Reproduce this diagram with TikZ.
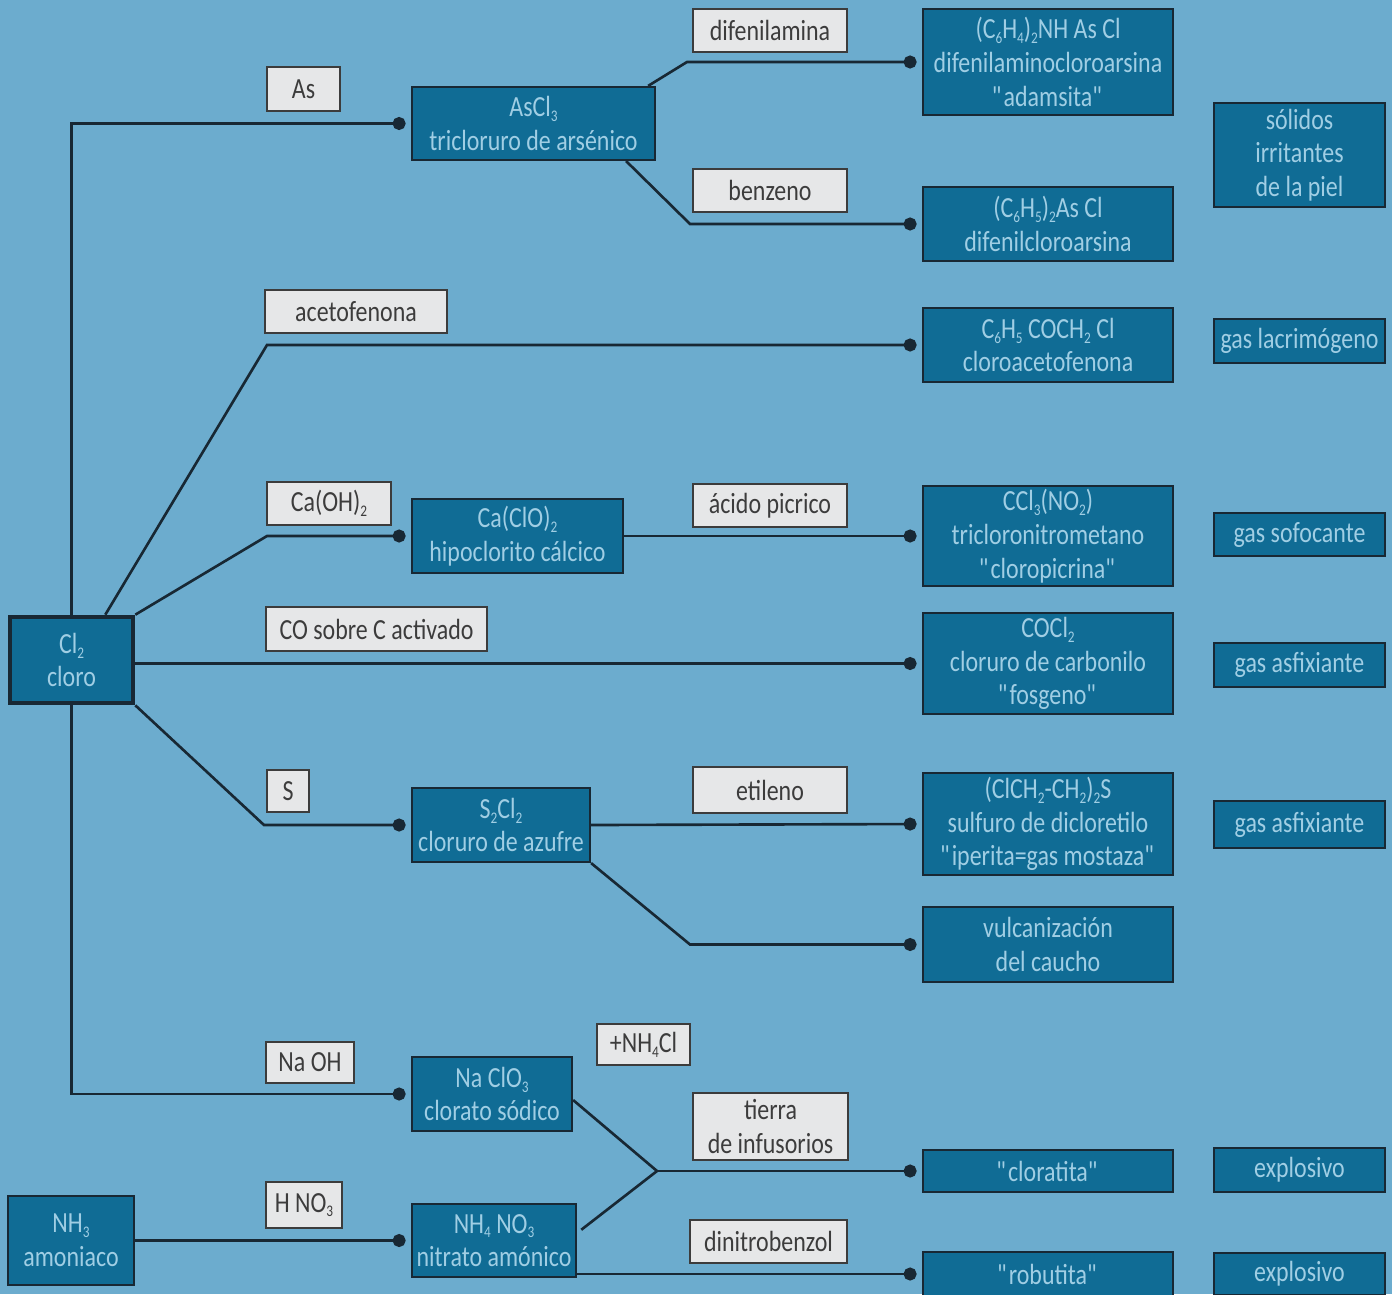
\documentclass[tikz,border=0pt]{standalone}
\usepackage{fontspec}
\setmainfont[FakeStretch=0.82]{Carlito}
\usetikzlibrary{arrows.meta, positioning}

\definecolor{bgblue}{RGB}{108,172,206}
\definecolor{boxblue}{RGB}{16,108,149}
\definecolor{boxtext}{RGB}{160,206,228}
\definecolor{linecol}{RGB}{24,40,52}
\definecolor{tagfill}{RGB}{230,231,232}
\definecolor{tagtext}{RGB}{60,60,60}

\newcommand{\ix}[1]{\raisebox{-0.35ex}{\fontsize{4.6}{5}\selectfont #1}}
\newcommand{\qt}[1]{\textquotedbl#1\textquotedbl}

\begin{document}
\begin{tikzpicture}[
    x = 0.01cm, y = -0.01cm,
    > = {Circle[length=3.7pt]}, % dots at the ends
    shorten > = 1.5pt,
    line width = 0.75pt,
    color = linecol,
    font = \fontsize{8.3}{9.6}\selectfont,
    comp/.style={rectangle, draw=linecol, line width=0.6pt, fill=boxblue, text=boxtext, align=center, inner sep=0pt, minimum width=2.5cm},
    use/.style={comp, minimum width=1.71cm},
    reag/.style={rectangle, draw=tagtext, line width=0.6pt, fill=tagfill, text=tagtext, align=center, inner sep=0pt, minimum width=1.54cm, minimum height=0.43cm}
]

% background
\path[use as bounding box, clip] (0,0) rectangle (1392,1294);
\fill[bgblue] (0,0) rectangle (1392,1294);

% --- STARTING SUBSTANCES ---
\node[comp, line width=1.3pt, minimum width=1.23cm, minimum height=0.86cm] (cl) at (71.5,660) {Cl\ix{2}\\cloro};
\node[comp, minimum width=1.26cm, minimum height=0.89cm] (nh) at (71,1240.5) {NH\ix{3}\\amoniaco};

% --- INTERMEDIATES ---
\node[comp, minimum width=2.43cm, minimum height=0.73cm] (ascl) at (533.5,123.5) {AsCl\ix{3}\\tricloruro de arsénico};
\node[comp, minimum width=2.11cm, minimum height=0.74cm] (caclo) at (517.5,536) {Ca(ClO)\ix{2}\\hipoclorito cálcico};
\node[comp, minimum width=1.78cm, minimum height=0.74cm] (scl) at (501,825) {S\ix{2}Cl\ix{2}\\cloruro de azufre};
\node[comp, minimum width=1.60cm, minimum height=0.74cm] (nacl) at (492,1094) {Na ClO\ix{3}\\clorato sódico};
\node[comp, minimum width=1.64cm, minimum height=0.73cm] (nhno) at (494,1240.5) {NH\ix{4} NO\ix{3}\\nitrato amónico};

% --- PRODUCTS ---
\node[comp, minimum height=1.06cm] (adam) at (1048,62) {(C\ix{6}H\ix{4})\ix{2}NH As Cl\\difenilaminocloroarsina\\\qt{adamsita}};
\node[comp, minimum height=0.74cm] (dfcl) at (1048,224) {(C\ix{6}H\ix{5})\ix{2}As Cl\\difenilcloroarsina};
\node[comp, minimum height=0.74cm] (cafn) at (1048,345) {C\ix{6}H\ix{5} COCH\ix{2} Cl\\cloroacetofenona};
\node[comp, minimum height=1.00cm] (cpic) at (1048,536) {CCl\ix{3}(NO\ix{2})\\tricloronitrometano\\\qt{cloropicrina}};
\node[comp, minimum height=1.01cm] (fosg) at (1048,663.5) {COCl\ix{2}\\cloruro de carbonilo\\\qt{fosgeno}};
\node[comp, minimum height=1.02cm] (iper) at (1048,824) {(ClCH\ix{2}-CH\ix{2})\ix{2}S\\sulfuro de dicloretilo\\\qt{iperita=gas mostaza}};
\node[comp, minimum height=0.75cm] (vulc) at (1048,944.5) {vulcanización\\del caucho};
\node[comp, minimum height=0.42cm] (clor) at (1048,1171) {\qt{cloratita}};
\node[comp, minimum height=0.44cm] (robu) at (1048,1274) {\qt{robutita}};

% --- USES ---
\node[use, minimum height=1.04cm] (u1) at (1299.5,155) {sólidos\\irritantes\\de la piel};
\node[use, minimum height=0.44cm] (u2) at (1299.5,341) {gas lacrimógeno};
\node[use, minimum height=0.43cm] (u3) at (1299.5,534.5) {gas sofocante};
\node[use, minimum height=0.44cm] (u4) at (1299.5,665) {gas asfixiante};
\node[use, minimum height=0.47cm] (u5) at (1299.5,824.5) {gas asfixiante};
\node[use, minimum height=0.44cm] (u6) at (1299.5,1170) {explosivo};
\node[use, minimum height=0.42cm] (u7) at (1299.5,1274) {explosivo};

% --- REAGENTS ---
\node[reag, minimum width=0.73cm, minimum height=0.44cm] (r1) at (303.5,89) {As};
\node[reag] (r2) at (770,30.5) {difenilamina};
\node[reag] (r3) at (770,190.5) {benzeno};
\node[reag, minimum width=1.82cm] (r4) at (356,311.5) {acetofenona};
\node[reag, minimum width=1.24cm] (r5) at (329,503.5) {Ca(OH)\ix{2}};
\node[reag] (r6) at (770,505.5) {ácido picrico};
\node[reag, minimum width=2.21cm, minimum height=0.44cm] (r7) at (376.5,629) {CO sobre C activado};
\node[reag, minimum width=0.42cm, minimum height=0.42cm] (r8) at (288,791) {S};
\node[reag, minimum height=0.46cm] (r9) at (770,790) {etileno};
\node[reag, minimum width=0.93cm, minimum height=0.41cm] (r10) at (643.5,1044.5) {+NH\ix{4}Cl};
\node[reag, minimum width=0.88cm, minimum height=0.41cm] (r11) at (310,1062.5) {Na OH};
\node[reag, minimum width=1.55cm, minimum height=0.67cm] (r12) at (770.5,1126.5) {tierra\\de infusorios};
\node[reag, minimum width=0.76cm, minimum height=0.46cm] (r13) at (304,1205) {H NO\ix{3}};
\node[reag, minimum width=1.57cm] (r14) at (768.5,1241.5) {dinitrobenzol};

% --- CONNECTIONS ---
\draw[->] (cl.north) |- (ascl.west);
\draw[->] ([xshift=-0.08cm]ascl.north east) -- (687,0 |- adam.west) -- (adam.west);
\draw[->] ([xshift=-0.3cm]ascl.south east) -- (690,0 |- dfcl.west) -- (dfcl.west);
\draw[->] ([xshift=-0.3cm]cl.north east) -- (267,0 |- cafn.west) -- (cafn.west);
\draw[->] (cl.north east) -- (267,0 |- caclo.west) -- (caclo.west);
\draw[->] (caclo.east) -- (cpic.west);
\draw[->] (cl.east |- fosg.west) -- (fosg.west);
\draw[->] (cl.south east) -- (264,0 |- scl.west) -- (scl.west);
\draw[->] (scl.east) -- (iper.west);
\draw[->] (scl.south east) -- (690,0 |- vulc.west) -- (vulc.west);
\draw[->] (cl.south) |- (nacl.west);
\draw[->] (nh.east) -- (nhno.west);

% mixtures
\coordinate (mix) at (657,0 |- clor.west);
\draw[line join=round] ([yshift=-0.06cm]nacl.east) -- (mix) -- ([yshift=0.075cm]nhno.east);
\draw[->] (mix) -- (clor.west);
\draw[->] (nhno.east |- robu.west) -- (robu.west);

\end{tikzpicture}
\end{document}
